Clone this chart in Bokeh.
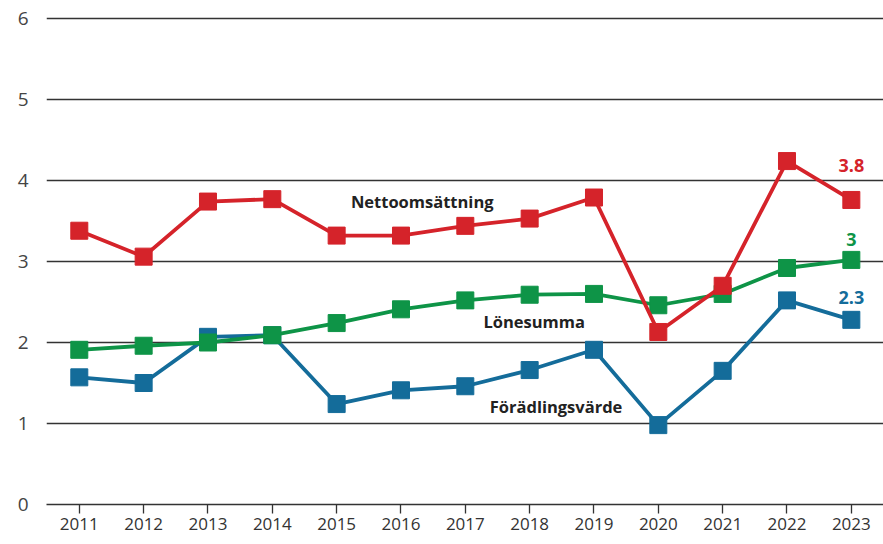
from bokeh.plotting import figure
from bokeh.models import Range1d, FixedTicker, Label
from bokeh.embed import file_html
from bokeh.resources import INLINE

years = [2011, 2012, 2013, 2014, 2015, 2016, 2017, 2018, 2019, 2020, 2021, 2022, 2023]
netto = [3.38, 3.06, 3.74, 3.77, 3.32, 3.32, 3.44, 3.53, 3.79, 2.13, 2.70, 4.24, 3.76]
lone = [1.91, 1.96, 2.00, 2.09, 2.24, 2.41, 2.52, 2.59, 2.60, 2.46, 2.60, 2.92, 3.02]
foradl = [1.57, 1.50, 2.07, 2.09, 1.24, 1.41, 1.46, 1.66, 1.91, 0.98, 1.65, 2.52, 2.28]
y_ticks = [0, 1, 2, 3, 4, 5, 6]

series_names = ["Nettoomsättning", "Lönesumma", "Förädlingsvärde"]
series_colors = ["#D5232A", "#0E9447", "#146C9A"]
name_pos = [(2016.33, 3.74), (2018.07, 2.26), (2018.41, 1.21)]
end_labels = ["3.8", "3", "2.3"]
end_pos = [(2023.0, 4.19), (2023.0, 3.27), (2023.0, 2.55)]

FONT = "Open Sans"

p = figure(width=883, height=544, output_backend="svg", toolbar_location=None,
           x_range=Range1d(2010.49, 2023.5), y_range=Range1d(0, 6.025),
           min_border_left=46, min_border_right=0, min_border_top=16, min_border_bottom=40)
p.outline_line_color = None
p.background_fill_color = "white"
p.border_fill_color = "white"

p.xgrid.grid_line_color = None
p.ygrid.grid_line_color = "#333333"
p.ygrid.grid_line_width = 1.3
p.ygrid.ticker = FixedTicker(ticks=y_ticks)

p.yaxis.ticker = FixedTicker(ticks=y_ticks)
p.yaxis.axis_line_color = None
p.yaxis.major_tick_line_color = None
p.yaxis.minor_tick_line_color = None
p.yaxis.major_label_text_font = FONT
p.yaxis.major_label_text_font_size = "19px"
p.yaxis.major_label_text_color = "#444444"
p.yaxis.major_label_standoff = 12

p.xaxis.ticker = FixedTicker(ticks=years)
p.xaxis.axis_line_color = "#333333"
p.xaxis.axis_line_width = 1.5
p.xaxis.major_tick_line_color = "#333333"
p.xaxis.major_tick_line_width = 1.3
p.xaxis.major_tick_in = 0
p.xaxis.major_tick_out = 9
p.xaxis.minor_tick_line_color = None
p.xaxis.major_label_text_font = FONT
p.xaxis.major_label_text_font_size = "17px"
p.xaxis.major_label_text_color = "#333333"
p.xaxis.major_label_standoff = 4

for vals, color in zip([foradl, lone, netto], [series_colors[2], series_colors[1], series_colors[0]]):
    p.line(years, vals, line_color=color, line_width=3.8)
    p.scatter(years, vals, marker="square", size=17, fill_color=color, line_color=color)

for name, (x, y) in zip(series_names, name_pos):
    p.add_layout(Label(x=x, y=y, text=name, text_font=FONT, text_font_style="bold",
                       text_font_size="16.5px", text_color="#222222",
                       text_align="center", text_baseline="middle"))

for lab, (x, y), color in zip(end_labels, end_pos, series_colors):
    p.add_layout(Label(x=x, y=y, text=lab, text_font=FONT, text_font_style="bold",
                       text_font_size="18px", text_color=color,
                       text_align="center", text_baseline="middle"))

open("out.html", "w").write(file_html(p, INLINE))
